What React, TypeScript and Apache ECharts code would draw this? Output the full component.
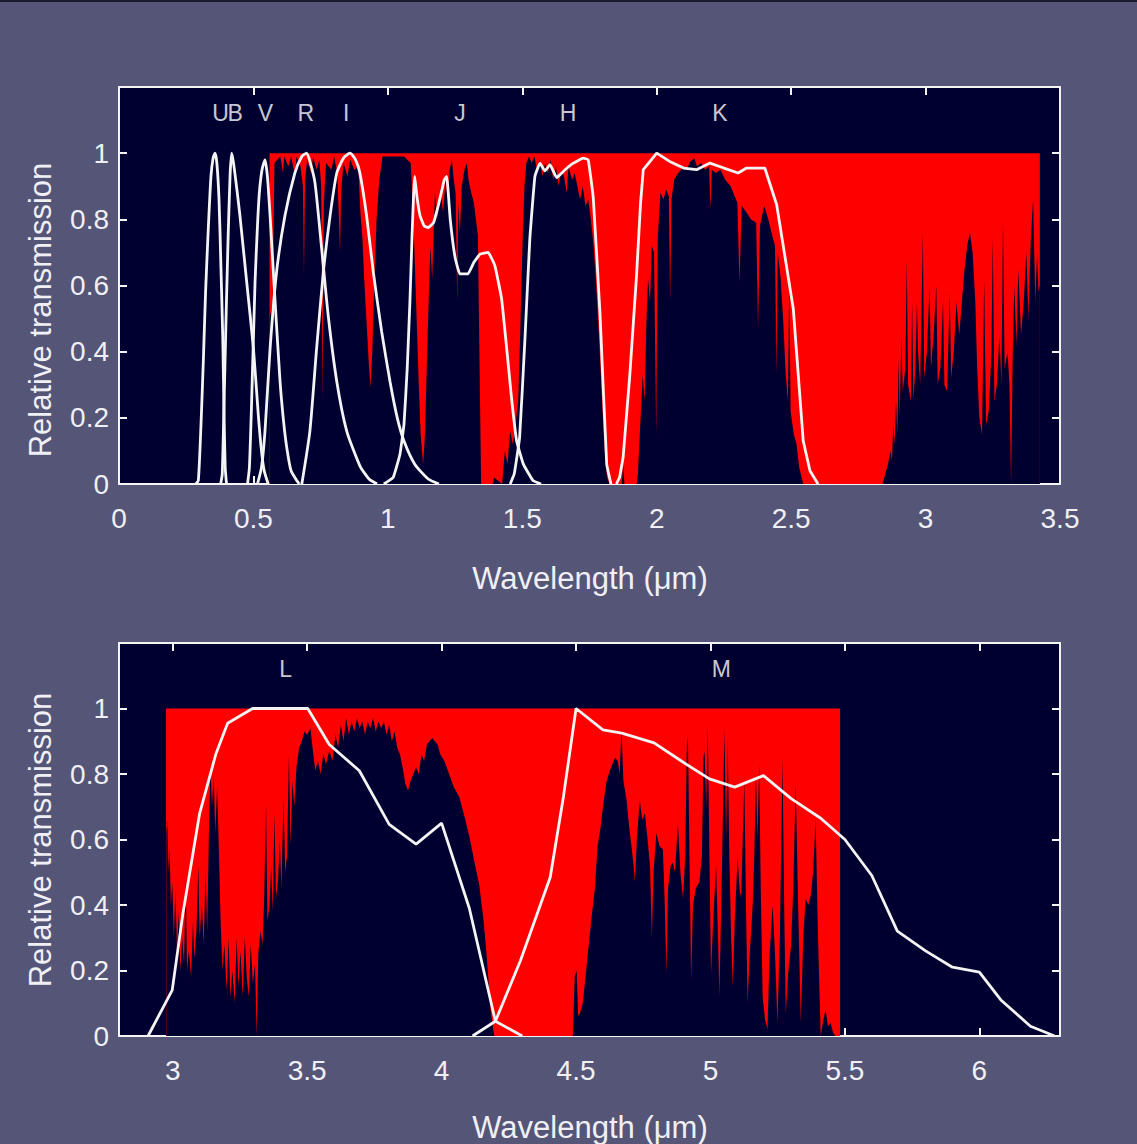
import React, { useEffect, useRef } from 'react';
import * as echarts from 'echarts';

// ---------- Axis ticks ----------
const topXTicks = [0, 0.5, 1, 1.5, 2, 2.5, 3, 3.5];
const bottomXTicks = [3, 3.5, 4, 4.5, 5, 5.5, 6];
const yTicks = [0, 0.2, 0.4, 0.6, 0.8, 1, 1.2];

// ---------- Band labels ----------
const topBandNames = ['U', 'B', 'V', 'R', 'I', 'J', 'H', 'K'];
const topBandX = [0.378, 0.432, 0.545, 0.695, 0.845, 1.268, 1.67, 2.235];
const bottomBandNames = ['L', 'M'];
const bottomBandX = [3.42, 5.04];
const bandLabelY = 1.12;

// ---------- Red (opaque) span, y = 1 ----------
const topRedSpan = [[0.56, 1], [3.425, 1]];
const bottomRedSpan = [[2.975, 1], [5.482, 1]];

// ---------- Atmospheric transmission, 0.56 - 3.43 um ----------
const atmTop = [
  [0.560, 0.50], [0.572, 0.55], [0.578, 0.97], [0.600, 0.99], [0.610, 0.94], [0.615, 0.99], [0.630, 0.96],
  [0.640, 0.99], [0.655, 0.93], [0.660, 0.99], [0.675, 0.96], [0.684, 0.90], [0.688, 0.63], [0.692, 0.92],
  [0.700, 0.98], [0.715, 0.94], [0.722, 0.99], [0.735, 0.95], [0.745, 0.98], [0.752, 0.90], [0.757, 0.25],
  [0.762, 0.85], [0.770, 0.97], [0.790, 0.95], [0.800, 0.99], [0.812, 0.94], [0.818, 0.80], [0.822, 0.70],
  [0.826, 0.88], [0.835, 0.97], [0.850, 0.93], [0.860, 0.98], [0.875, 0.95], [0.890, 0.96], [0.898, 0.82],
  [0.905, 0.75], [0.912, 0.62], [0.920, 0.50], [0.928, 0.38], [0.935, 0.29], [0.942, 0.40], [0.950, 0.62],
  [0.958, 0.80], [0.968, 0.92], [0.980, 0.99], [1.000, 0.99], [1.030, 0.99], [1.060, 0.99], [1.085, 0.97],
  [1.095, 0.80], [1.105, 0.55], [1.115, 0.30], [1.122, 0.15], [1.131, 0.06], [1.138, 0.15], [1.148, 0.45],
  [1.158, 0.72], [1.165, 0.62], [1.175, 0.88], [1.185, 0.80], [1.195, 0.90], [1.205, 0.82], [1.215, 0.92],
  [1.222, 0.86], [1.230, 0.95], [1.238, 0.98], [1.245, 0.92], [1.252, 0.88], [1.258, 0.55], [1.262, 0.85],
  [1.268, 0.76], [1.275, 0.90], [1.285, 0.95], [1.294, 0.97], [1.300, 0.92], [1.310, 0.88], [1.320, 0.85],
  [1.335, 0.75], [1.342, 0.30], [1.347, 0.0], [1.390, 0.0], [1.395, 0.02], [1.425, 0.0], [1.435, 0.10],
  [1.445, 0.06], [1.455, 0.16], [1.465, 0.12], [1.475, 0.18], [1.485, 0.25], [1.492, 0.45], [1.500, 0.70],
  [1.508, 0.90], [1.515, 0.97], [1.525, 0.99], [1.535, 0.97], [1.545, 0.99], [1.555, 0.95], [1.565, 0.98],
  [1.575, 0.93], [1.585, 0.97], [1.595, 0.94], [1.605, 0.98], [1.615, 0.92], [1.625, 0.96], [1.635, 0.90],
  [1.645, 0.95], [1.655, 0.93], [1.665, 0.88], [1.672, 0.96], [1.685, 0.92], [1.695, 0.94], [1.705, 0.90],
  [1.715, 0.86], [1.725, 0.90], [1.735, 0.84], [1.745, 0.86], [1.755, 0.80], [1.765, 0.72], [1.775, 0.60],
  [1.785, 0.45], [1.795, 0.28], [1.805, 0.12], [1.815, 0.02], [1.825, 0.0], [1.870, 0.0], [1.875, 0.06],
  [1.880, 0.0], [1.925, 0.0], [1.930, 0.03], [1.940, 0.20], [1.948, 0.33], [1.955, 0.25], [1.962, 0.50],
  [1.968, 0.62], [1.975, 0.55], [1.982, 0.72], [1.990, 0.70], [1.998, 0.15], [2.004, 0.75], [2.014, 0.88],
  [2.025, 0.86], [2.035, 0.89], [2.045, 0.87], [2.050, 0.55], [2.055, 0.86], [2.065, 0.92], [2.080, 0.94],
  [2.097, 0.955], [2.110, 0.95], [2.125, 0.975], [2.140, 0.985], [2.150, 0.96], [2.165, 0.97], [2.180, 0.95],
  [2.195, 0.96], [2.200, 0.83], [2.205, 0.95], [2.220, 0.94], [2.237, 0.95], [2.255, 0.92], [2.275, 0.90],
  [2.290, 0.87], [2.300, 0.85], [2.308, 0.61], [2.316, 0.84], [2.335, 0.82], [2.350, 0.80], [2.370, 0.79],
  [2.377, 0.47], [2.384, 0.78], [2.400, 0.84], [2.415, 0.80], [2.430, 0.75], [2.440, 0.72], [2.445, 0.33],
  [2.450, 0.70], [2.460, 0.63], [2.470, 0.50], [2.480, 0.33], [2.488, 0.25], [2.493, 0.62], [2.498, 0.22],
  [2.510, 0.15], [2.520, 0.12], [2.530, 0.05], [2.545, 0.0], [2.840, 0.0], [2.850, 0.03], [2.860, 0.06],
  [2.870, 0.10], [2.875, 0.07], [2.880, 0.18], [2.885, 0.12], [2.890, 0.25], [2.895, 0.15], [2.900, 0.38],
  [2.904, 0.20], [2.910, 0.45], [2.915, 0.28], [2.925, 0.35], [2.930, 0.68], [2.935, 0.30], [2.945, 0.25],
  [2.950, 0.55], [2.955, 0.25], [2.962, 0.35], [2.968, 0.55], [2.972, 0.40], [2.980, 0.30], [2.990, 0.76],
  [2.995, 0.32], [3.005, 0.40], [3.015, 0.60], [3.020, 0.35], [3.030, 0.45], [3.040, 0.60], [3.045, 0.30],
  [3.055, 0.35], [3.065, 0.55], [3.070, 0.30], [3.080, 0.28], [3.090, 0.58], [3.095, 0.32], [3.105, 0.40],
  [3.115, 0.55], [3.125, 0.45], [3.135, 0.55], [3.145, 0.65], [3.155, 0.72], [3.165, 0.76], [3.175, 0.70],
  [3.185, 0.55], [3.192, 0.35], [3.200, 0.20], [3.210, 0.15], [3.218, 0.62], [3.225, 0.18], [3.235, 0.22],
  [3.245, 0.40], [3.250, 0.75], [3.256, 0.25], [3.265, 0.30], [3.275, 0.45], [3.282, 0.30], [3.288, 0.79],
  [3.294, 0.35], [3.305, 0.40], [3.312, 0.30], [3.318, 0.0], [3.324, 0.38], [3.330, 0.60], [3.338, 0.42],
  [3.345, 0.65], [3.355, 0.45], [3.365, 0.55], [3.375, 0.70], [3.382, 0.50], [3.392, 0.75], [3.400, 0.86],
  [3.408, 0.55], [3.415, 0.70], [3.420, 0.58], [3.425, 0.60]
];

// ---------- Atmospheric transmission, 2.98 - 5.48 um ----------
const atmBottom = [
  [2.976, 0.62], [2.980, 0.66], [2.984, 0.50], [2.988, 0.58], [2.993, 0.40], [2.998, 0.47], [3.004, 0.30],
  [3.010, 0.45], [3.016, 0.25], [3.022, 0.38], [3.028, 0.20], [3.035, 0.30], [3.042, 0.22], [3.048, 0.48],
  [3.053, 0.20], [3.060, 0.26], [3.068, 0.18], [3.075, 0.35], [3.080, 0.24], [3.088, 0.32], [3.095, 0.52],
  [3.100, 0.30], [3.108, 0.40], [3.115, 0.28], [3.122, 0.50], [3.128, 0.32], [3.134, 0.60], [3.140, 0.82],
  [3.146, 0.70], [3.152, 0.80], [3.158, 0.62], [3.165, 0.76], [3.172, 0.55], [3.178, 0.35], [3.185, 0.20],
  [3.192, 0.28], [3.200, 0.14], [3.208, 0.30], [3.214, 0.12], [3.222, 0.20], [3.230, 0.10], [3.238, 0.30],
  [3.244, 0.15], [3.252, 0.26], [3.260, 0.12], [3.268, 0.30], [3.275, 0.18], [3.283, 0.12], [3.290, 0.28],
  [3.298, 0.16], [3.306, 0.22], [3.312, 0.0], [3.318, 0.25], [3.326, 0.32], [3.334, 0.28], [3.340, 0.42],
  [3.347, 0.71], [3.352, 0.35], [3.360, 0.40], [3.366, 0.52], [3.372, 0.38], [3.378, 0.68], [3.384, 0.42],
  [3.392, 0.48], [3.398, 0.60], [3.404, 0.45], [3.412, 0.73], [3.418, 0.50], [3.425, 0.55], [3.432, 0.86],
  [3.438, 0.58], [3.445, 0.78], [3.452, 0.70], [3.460, 0.82], [3.470, 0.88], [3.480, 0.90], [3.490, 0.93],
  [3.500, 0.92], [3.512, 0.94], [3.520, 0.88], [3.530, 0.81], [3.540, 0.84], [3.550, 0.80], [3.560, 0.86],
  [3.570, 0.83], [3.582, 0.87], [3.594, 0.84], [3.605, 0.92], [3.615, 0.88], [3.625, 0.95], [3.635, 0.90],
  [3.645, 0.97], [3.655, 0.92], [3.665, 0.96], [3.675, 0.93], [3.685, 0.97], [3.695, 0.94], [3.705, 0.96],
  [3.715, 0.92], [3.725, 0.96], [3.735, 0.94], [3.745, 0.97], [3.755, 0.93], [3.765, 0.96], [3.775, 0.94],
  [3.785, 0.96], [3.795, 0.92], [3.805, 0.95], [3.815, 0.90], [3.825, 0.93], [3.835, 0.88], [3.845, 0.86],
  [3.855, 0.82], [3.865, 0.77], [3.875, 0.75], [3.885, 0.78], [3.895, 0.80], [3.905, 0.82], [3.915, 0.80],
  [3.925, 0.86], [3.935, 0.84], [3.945, 0.89], [3.955, 0.90], [3.965, 0.91], [3.975, 0.90], [3.985, 0.89],
  [3.995, 0.86], [4.010, 0.84], [4.028, 0.80], [4.045, 0.76], [4.066, 0.73], [4.085, 0.67], [4.103, 0.61],
  [4.120, 0.54], [4.140, 0.46], [4.155, 0.36], [4.165, 0.27], [4.175, 0.16], [4.183, 0.07], [4.196, 0.0],
  [4.488, 0.0], [4.495, 0.18], [4.502, 0.20], [4.508, 0.06], [4.515, 0.07], [4.525, 0.10], [4.540, 0.22],
  [4.550, 0.30], [4.560, 0.38], [4.570, 0.45], [4.580, 0.58], [4.590, 0.63], [4.600, 0.70], [4.614, 0.78],
  [4.630, 0.82], [4.645, 0.85], [4.655, 0.84], [4.662, 0.80], [4.669, 0.94], [4.676, 0.78], [4.688, 0.72],
  [4.700, 0.62], [4.706, 0.58], [4.714, 0.52], [4.719, 0.47], [4.726, 0.60], [4.737, 0.72], [4.746, 0.66],
  [4.756, 0.68], [4.766, 0.60], [4.775, 0.52], [4.782, 0.30], [4.788, 0.50], [4.799, 0.62], [4.810, 0.58],
  [4.823, 0.57], [4.830, 0.40], [4.836, 0.19], [4.842, 0.45], [4.852, 0.52], [4.860, 0.53], [4.868, 0.50],
  [4.879, 0.65], [4.888, 0.50], [4.898, 0.42], [4.906, 0.55], [4.912, 0.88], [4.916, 0.92], [4.921, 0.60],
  [4.928, 0.17], [4.935, 0.40], [4.945, 0.45], [4.959, 0.47], [4.968, 0.55], [4.974, 0.85], [4.978, 0.87],
  [4.984, 0.70], [4.990, 0.95], [4.996, 0.55], [5.002, 0.19], [5.010, 0.35], [5.021, 0.52], [5.028, 0.30],
  [5.033, 0.12], [5.040, 0.40], [5.048, 0.75], [5.052, 0.94], [5.058, 0.60], [5.064, 0.91], [5.070, 0.55],
  [5.077, 0.30], [5.083, 0.15], [5.090, 0.35], [5.101, 0.55], [5.108, 0.45], [5.114, 0.42], [5.120, 0.60],
  [5.126, 0.78], [5.132, 0.40], [5.138, 0.10], [5.146, 0.25], [5.157, 0.40], [5.163, 0.55], [5.169, 0.80],
  [5.175, 0.60], [5.181, 0.83], [5.187, 0.45], [5.194, 0.12], [5.203, 0.05], [5.212, 0.02], [5.220, 0.25],
  [5.231, 0.40], [5.240, 0.25], [5.249, 0.04], [5.258, 0.30], [5.268, 0.85], [5.274, 0.40], [5.280, 0.07],
  [5.290, 0.20], [5.299, 0.27], [5.308, 0.45], [5.317, 0.77], [5.326, 0.40], [5.336, 0.04], [5.345, 0.30],
  [5.354, 0.42], [5.364, 0.40], [5.373, 0.43], [5.382, 0.50], [5.391, 0.66], [5.400, 0.30], [5.410, 0.0],
  [5.420, 0.05], [5.428, 0.08], [5.437, 0.03], [5.447, 0.04], [5.456, 0.01], [5.465, 0.0], [5.480, 0.0]
];

// ---------- Filter transmission curves ----------
const filterU = [
  [0.285, 0], [0.295, 0.01], [0.305, 0.18], [0.314, 0.38], [0.322, 0.58], [0.332, 0.77], [0.342, 0.93],
  [0.350, 0.985], [0.357, 1.0], [0.364, 0.97], [0.372, 0.86], [0.379, 0.66], [0.386, 0.44], [0.391, 0.20],
  [0.395, 0.05], [0.400, 0.0]
];
const filterB = [
  [0.378, 0], [0.384, 0.03], [0.390, 0.22], [0.397, 0.46], [0.405, 0.72], [0.413, 0.93], [0.419, 1.0],
  [0.426, 0.97], [0.437, 0.90], [0.450, 0.81], [0.475, 0.61], [0.500, 0.41], [0.518, 0.21], [0.530, 0.10],
  [0.540, 0.04], [0.555, 0.0]
];
const filterV = [
  [0.478, 0], [0.485, 0.05], [0.493, 0.24], [0.506, 0.61], [0.515, 0.78], [0.522, 0.88], [0.532, 0.95],
  [0.543, 0.98], [0.552, 0.93], [0.562, 0.81], [0.580, 0.56], [0.599, 0.31], [0.612, 0.19], [0.624, 0.11],
  [0.640, 0.04], [0.670, 0.0]
];
const filterR = [
  [0.515, 0], [0.530, 0.05], [0.543, 0.16], [0.562, 0.41], [0.586, 0.64], [0.617, 0.81], [0.654, 0.94],
  [0.680, 0.99], [0.698, 1.0], [0.712, 0.97], [0.729, 0.91], [0.754, 0.71], [0.778, 0.51], [0.810, 0.31],
  [0.847, 0.16], [0.896, 0.055], [0.930, 0.015], [0.960, 0.0]
];
const filterI = [
  [0.680, 0], [0.710, 0.16], [0.735, 0.41], [0.760, 0.64], [0.785, 0.81], [0.810, 0.94], [0.835, 0.985],
  [0.859, 1.0], [0.880, 0.98], [0.896, 0.94], [0.921, 0.81], [0.946, 0.64], [0.977, 0.46], [1.008, 0.31],
  [1.035, 0.20], [1.060, 0.13], [1.100, 0.06], [1.150, 0.015], [1.190, 0.0]
];
const filterJ = [
  [0.985, 0], [1.020, 0.02], [1.045, 0.09], [1.060, 0.18], [1.072, 0.35], [1.082, 0.55], [1.090, 0.75],
  [1.096, 0.88], [1.100, 0.93], [1.108, 0.87], [1.120, 0.81], [1.135, 0.78], [1.150, 0.775], [1.170, 0.79],
  [1.190, 0.85], [1.210, 0.92], [1.219, 0.93], [1.232, 0.80], [1.250, 0.685], [1.268, 0.635], [1.298, 0.635],
  [1.320, 0.67], [1.343, 0.695], [1.373, 0.70], [1.398, 0.66], [1.423, 0.56], [1.442, 0.41], [1.460, 0.26],
  [1.479, 0.13], [1.504, 0.06], [1.540, 0.01], [1.570, 0]
];
const filterH = [
  [1.455, 0], [1.470, 0.03], [1.490, 0.14], [1.510, 0.44], [1.528, 0.74], [1.547, 0.93], [1.566, 0.97],
  [1.584, 0.946], [1.603, 0.965], [1.628, 0.926], [1.659, 0.95], [1.690, 0.97], [1.727, 0.985], [1.745, 0.98],
  [1.764, 0.865], [1.789, 0.515], [1.814, 0.06], [1.830, 0.0]
];
const filterK = [
  [1.850, 0], [1.862, 0.02], [1.875, 0.08], [1.900, 0.33], [1.925, 0.63], [1.940, 0.85], [1.950, 0.95],
  [1.970, 0.97], [2.000, 1.0], [2.048, 0.975], [2.100, 0.955], [2.148, 0.95], [2.198, 0.97], [2.250, 0.955],
  [2.303, 0.94], [2.334, 0.955], [2.402, 0.955], [2.446, 0.845], [2.508, 0.53], [2.545, 0.13], [2.570, 0.04],
  [2.600, 0.0]
];
const filterL = [
  [2.908, 0], [2.998, 0.14], [3.037, 0.37], [3.100, 0.68], [3.160, 0.86], [3.204, 0.955], [3.297, 1.0],
  [3.502, 1.0], [3.582, 0.89], [3.694, 0.81], [3.805, 0.646], [3.905, 0.586], [4.000, 0.65], [4.103, 0.39],
  [4.200, 0.045], [4.300, 0.0]
];
const filterM = [
  [4.115, 0], [4.200, 0.045], [4.293, 0.23], [4.404, 0.485], [4.453, 0.73], [4.500, 1.0], [4.600, 0.935],
  [4.670, 0.925], [4.790, 0.895], [4.900, 0.835], [4.996, 0.785], [5.090, 0.76], [5.197, 0.795], [5.300, 0.725],
  [5.410, 0.665], [5.500, 0.60], [5.600, 0.49], [5.695, 0.32], [5.800, 0.26], [5.900, 0.21], [6.000, 0.195],
  [6.080, 0.11], [6.190, 0.03], [6.280, 0.0]
];

const topFilters = [filterU, filterB, filterV, filterR, filterI, filterJ, filterH, filterK];
const topFilterSmooth = [0.2, 0.2, 0.2, 0.2, 0.2, 0.1, 0.1, 0];

const BG = '#555578';
const NAVY = '#000030';
const RED = '#ff0000';
const WHITE = '#f4f4f4';
const TEXT = '#f0f0f4';
const FONT = '"Liberation Sans", Arial, Helvetica, sans-serif';

function makeAxes(gridIndex: number, min: number, max: number, xTicks: number[]) {
  const common = {
    gridIndex,
    type: 'value' as const,
    min,
    max,
    splitLine: { show: false },
    axisLine: { show: true, onZero: false, lineStyle: { color: WHITE, width: 2 } },
    axisTick: { show: true, inside: true, length: 8, lineStyle: { color: WHITE, width: 2 }, customValues: xTicks },
  };
  const xBottom = {
    ...common,
    position: 'bottom',
    axisLabel: {
      show: true, customValues: xTicks, color: TEXT, fontSize: 28, fontFamily: FONT, margin: 20,
      formatter: (v: number) => String(Math.round(v * 10) / 10),
    },
  };
  const xTop = { ...common, position: 'top', axisLabel: { show: false } };
  const yCommon = {
    gridIndex,
    type: 'value' as const,
    min: 0,
    max: 1.2,
    splitLine: { show: false },
    axisLine: { show: true, onZero: false, lineStyle: { color: WHITE, width: 2 } },
    axisTick: { show: true, inside: true, length: 8, lineStyle: { color: WHITE, width: 2 }, customValues: yTicks },
  };
  const yLeft = {
    ...yCommon,
    position: 'left',
    axisLabel: {
      show: true, customValues: yTicks, color: TEXT, fontSize: 28, fontFamily: FONT, margin: 10,
      formatter: (v: number) => (v > 1.05 ? '' : String(Math.round(v * 10) / 10)),
    },
  };
  const yRight = { ...yCommon, position: 'right', axisLabel: { show: false } };
  return { x: [xBottom, xTop], y: [yLeft, yRight] };
}

function areaSeries(data: number[][], color: string, xi: number, yi: number) {
  return {
    type: 'line',
    xAxisIndex: xi,
    yAxisIndex: yi,
    data,
    symbol: 'none',
    silent: true,
    lineStyle: { width: 0, color },
    areaStyle: { color, opacity: 1 },
  };
}

function curveSeries(data: number[][], xi: number, yi: number, smooth: number) {
  return {
    type: 'line',
    xAxisIndex: xi,
    yAxisIndex: yi,
    data,
    symbol: 'none',
    silent: true,
    smooth,
    lineStyle: { width: 2.8, color: WHITE },
  };
}

function labelSeries(names: string[], xs: number[], xi: number, yi: number) {
  return {
    type: 'scatter',
    xAxisIndex: xi,
    yAxisIndex: yi,
    symbolSize: 1,
    silent: true,
    itemStyle: { color: 'rgba(0,0,0,0)' },
    label: {
      show: true,
      position: 'inside',
      formatter: (p: any) => p.name,
      color: '#ffffff',
      fontSize: 23,
      fontFamily: FONT,
    },
    data: names.map((n, i) => ({ name: n, value: [xs[i], bandLabelY] })),
  };
}

export default function App() {
  const ref = useRef<HTMLDivElement>(null);

  useEffect(() => {
    if (!ref.current) return;
    const chart = echarts.init(ref.current, null, { renderer: 'svg' });
    const topAxes = makeAxes(0, 0, 3.5, topXTicks);
    const botAxes = makeAxes(1, 2.8, 6.3, bottomXTicks);

    const series: any[] = [];
    series.push(areaSeries(topRedSpan, RED, 0, 0));
    series.push(areaSeries(atmTop, NAVY, 0, 0));
    topFilters.forEach((f, i) => series.push(curveSeries(f, 0, 0, topFilterSmooth[i])));
    series.push(labelSeries(topBandNames, topBandX, 0, 0));

    series.push(areaSeries(bottomRedSpan, RED, 2, 2));
    series.push(areaSeries(atmBottom, NAVY, 2, 2));
    series.push(curveSeries(filterL, 2, 2, 0));
    series.push(curveSeries(filterM, 2, 2, 0));
    series.push(labelSeries(bottomBandNames, bottomBandX, 2, 2));

    const titleStyle = { fill: TEXT, fontSize: 31, fontFamily: FONT, align: 'center', verticalAlign: 'middle' };

    chart.setOption({
      animation: false,
      backgroundColor: BG,
      grid: [
        { left: 119, top: 87, width: 941, height: 397, show: true, backgroundColor: NAVY, borderWidth: 0 },
        { left: 119, top: 643, width: 941, height: 393, show: true, backgroundColor: NAVY, borderWidth: 0 },
      ],
      xAxis: [...topAxes.x, ...botAxes.x],
      yAxis: [...topAxes.y, ...botAxes.y],
      series,
      graphic: [
        { type: 'rect', left: 0, top: 0, shape: { width: 1137, height: 2 }, style: { fill: '#1a1a30' } },
        { type: 'text', x: 40, y: 310, rotation: Math.PI / 2, style: { ...titleStyle, text: 'Relative transmission' } },
        { type: 'text', x: 40, y: 840, rotation: Math.PI / 2, style: { ...titleStyle, text: 'Relative transmission' } },
        { type: 'text', x: 590, y: 578, style: { ...titleStyle, text: 'Wavelength (\u03bcm)' } },
        { type: 'text', x: 590, y: 1127, style: { ...titleStyle, text: 'Wavelength (\u03bcm)' } },
      ],
    });
    return () => chart.dispose();
  }, []);

  return (
    <div
      ref={ref}
      style={{ position: 'fixed', left: 0, top: 0, width: 1137, height: 1144 }}
    />
  );
}
